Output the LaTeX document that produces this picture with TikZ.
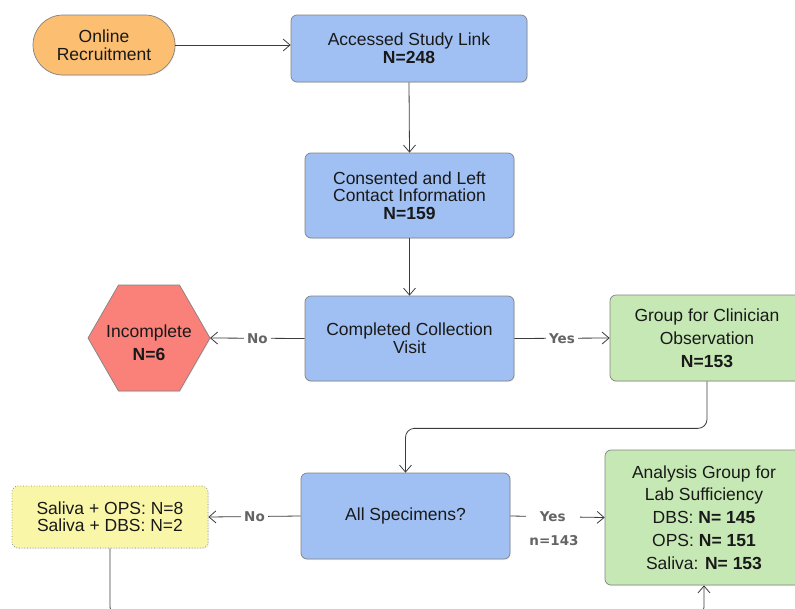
\documentclass[tikz,border=0pt]{standalone}
\usepackage{fontspec}
\setmainfont{Liberation Sans}
\newfontfamily\lblfont{DejaVu Sans}
\usetikzlibrary{arrows.meta,shapes.geometric,shadows}

\definecolor{boxblue}{RGB}{160,192,243}
\definecolor{boxgreen}{RGB}{198,232,180}
\definecolor{boxorange}{RGB}{252,190,112}
\definecolor{boxred}{RGB}{250,128,122}
\definecolor{boxyellow}{RGB}{250,246,168}
\definecolor{edgegray}{RGB}{130,130,130}
\definecolor{linegray}{RGB}{60,60,60}
\definecolor{labelgray}{RGB}{100,100,100}
\definecolor{textdark}{RGB}{25,25,25}

\begin{document}
\begin{tikzpicture}[x=1pt,y=-1pt,
  every node/.style={text=textdark},
  outline/.style={draw=edgegray, line width=0.7pt,
    drop shadow={opacity=0.12, shadow xshift=1pt, shadow yshift=-1pt}},
  base/.style={outline, align=center,
    font=\fontsize{17.5}{17.7}\selectfont},
  proc/.style={base, rectangle, rounded corners=6pt, fill=boxblue},
  outcome/.style={base, rectangle, rounded corners=6pt, fill=boxgreen,
    font=\fontsize{17.5}{22.8}\selectfont},
  flow/.style={draw=linegray, line width=0.8pt,
    -{Straight Barb[length=7pt,width=12pt,line width=0.8pt]}},
  lbl/.style={fill=white, text=labelgray, inner sep=3pt,
    font=\lblfont\bfseries\fontsize{13.5}{15}\selectfont}
]
\useasboundingbox (0,0) rectangle (795,608);

% entry point
\node[base, rectangle, rounded corners=29.9pt, fill=boxorange,
      minimum width=142pt, minimum height=60pt] (rec) at (104,45)
  {Online\\Recruitment};

% main column
\node[proc, minimum width=236pt, minimum height=67pt] (link) at (409,48.5)
  {Accessed Study Link\\\textbf{N=248}};
\node[proc, minimum width=209pt, minimum height=85pt] (cons) at (409.5,195.5)
  {Consented and Left\\Contact Information\\\textbf{N=159}};
\node[proc, minimum width=209pt, minimum height=85pt] (coll) at (409.5,338.5)
  {Completed Collection\\Visit};
\node[proc, minimum width=209pt, minimum height=86pt] (spec) at (405.5,516)
  {All Specimens?};

% incomplete: hexagon drawn as a path, text on top
\coordinate (incW) at (88,338);
\coordinate (incE) at (210,338);
\path[outline, fill=boxred] (incW) -- (118.5,285) -- (179.5,285) -- (incE)
  -- (179.5,391) -- (118.5,391) -- cycle;
\node[align=center, font=\fontsize{17.5}{23}\selectfont] (inc) at (149,342.5)
  {Incomplete\\\textbf{N=6}};

% outcome groups
\node[outcome, minimum width=194pt, minimum height=86pt] (clin) at (707,338)
  {Group for Clinician\\Observation\\\textbf{N=153}};
\node[outcome, minimum width=198pt, minimum height=135pt] (anal) at (704,517.5)
  {Analysis Group for\\Lab Sufficiency\\DBS: \textbf{N= 145}\\OPS: \textbf{N= 151}\\Saliva: \textbf{N= 153}};
\node[base, rectangle, rounded corners=6pt, fill=boxyellow, dotted,
      minimum width=196pt, minimum height=62pt,
      font=\fontsize{17.5}{17}\selectfont] (yel) at (110,517)
  {Saliva + OPS: N=8\\Saliva + DBS: N=2};

% connectors
\draw[flow] (rec.east) -- (rec.east -| link.west);
\draw[flow] (link.south) -- (cons.north);
\draw[flow] (cons.south) -- (coll.north);
\draw[flow] (coll.west) -- node[lbl]{No} (incE);
\draw[flow] (coll.east) -- node[lbl]{Yes} (clin.west);
\draw[flow, rounded corners=9pt] (clin.south) -- ++(0,47) -| (spec.north);
\draw[flow] (spec.west) -- node[lbl]{No} (yel.east);
\draw[flow] (spec.east) -- node[lbl, inner xsep=14pt, pos=0.45] (yes) {Yes} (anal.west);
\node[lbl, fill=none, inner sep=0pt] (n143) at (554,541) {n=143};
\coordinate (ylow) at (yel.south |- 0,616);
\coordinate (alow) at (anal.south |- 0,616);
\draw[flow, rounded corners=9pt] (yel.south) -- (ylow) -- (alow) -- (anal.south);
\end{tikzpicture}
\end{document}
